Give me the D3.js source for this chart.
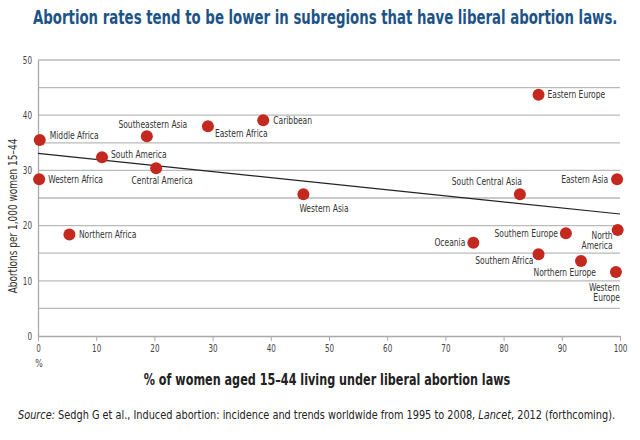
<!DOCTYPE html>
<html>
<head>
<meta charset="utf-8">
<script src="https://cdn.jsdelivr.net/npm/d3@7"></script>
<style>
  body { margin: 0; background: #fff; }
  svg text { font-family: "Liberation Sans Narrow", "DejaVu Sans Condensed", "Roboto", sans-serif; }
</style>
</head>
<body>
<div id="chart"></div>
<script>
// subregions, % of women living under liberal laws, abortion rate per 1,000
var regions = ['Middle Africa', 'Western Africa', 'Northern Africa', 'South America', 'Southeastern Asia',
    'Central America', 'Eastern Africa', 'Caribbean', 'Western Asia', 'Eastern Europe', 'South Central Asia',
    'Eastern Asia', 'Oceania', 'Southern Europe', 'North America', 'Southern Africa', 'Northern Europe', 'Western Europe'];
var pctLiberal = [0.3, 0.2, 5.4, 11.0, 18.7, 20.3, 29.2, 38.7, 45.6, 86.0, 82.8, 99.5, 74.8, 90.7, 99.6, 86.0, 93.3, 99.3];
var abortionRate = [35.5, 28.4, 18.4, 32.4, 36.2, 30.4, 38.0, 39.1, 25.7, 43.7, 25.7, 28.4, 16.9, 18.6, 19.2, 14.8, 13.6, 11.6];

// fitted trend line end points
var trendX = [0, 100];
var trendY = [33.1, 22.1];

var xTicks = [0, 10, 20, 30, 40, 50, 60, 70, 80, 90, 100];
var yTicks = [0, 10, 20, 30, 40, 50];
var yGrid = [5, 10, 15, 20, 25, 30, 35, 40, 45, 50];

// where each label sits relative to its dot: [dx, dy, anchor]
var labelPos = {
    'Middle Africa': [10, -5, 'start'],
    'Western Africa': [9, 0, 'start'],
    'Northern Africa': [9.5, 0, 'start'],
    'South America': [9, -3, 'start'],
    'Southeastern Asia': [6, -12, 'middle'],
    'Central America': [6, 12, 'middle'],
    'Eastern Africa': [7, 7, 'start'],
    'Caribbean': [10, 0, 'start'],
    'Western Asia': [-4, 14, 'start'],
    'Eastern Europe': [9, 0, 'start'],
    'South Central Asia': [2, -12.6, 'end'],
    'Eastern Asia': [-9, 0, 'end'],
    'Oceania': [-8, 0, 'end'],
    'Southern Europe': [-8, 0, 'end'],
    'North America': [-5, 5.5, 'end'],
    'Southern Africa': [-5, 6, 'end'],
    'Northern Europe': [15, 11, 'end'],
    'Western Europe': [4, 15, 'end']
};

var W = 640, H = 440;
var svg = d3.select('#chart').append('svg').attr('width', W).attr('height', H);

var x = d3.scaleLinear().domain([0, 100]).range([38, 620]);
var y = d3.scaleLinear().domain([0, 50]).range([336, 60]);

// squeeze text horizontally, there is no condensed font around
function squeeze(sel, f) {
    sel.each(function () {
        var w = this.getComputedTextLength();
        d3.select(this).attr('textLength', w * f).attr('lengthAdjust', 'spacingAndGlyphs');
    });
}
// scale a whole text (placed at 0,0) to a given width
function scaleTo(t, w, tx, ty, rot) {
    var n = t.node().getComputedTextLength();
    t.attr('transform', `translate(${tx},${ty})` + (rot ? ` rotate(${rot})` : '') + ` scale(${w / n},1)`);
}

// title
var title = svg.append('text').attr('font-size', 20).attr('font-weight', 'bold').attr('fill', '#1d5386')
    .text('Abortion rates tend to be lower in subregions that have liberal abortion laws.');
scaleTo(title, 585, 33, 24);

// gridlines
svg.append('g').selectAll('line').data(yGrid).enter().append('line')
    .attr('x1', x(0)).attr('x2', x(100))
    .attr('y1', d => y(d)).attr('y2', d => y(d))
    .attr('stroke', '#bababa').attr('stroke-width', 1.3);

// y axis
var yAxis = d3.axisLeft(y).tickValues(yTicks).tickSize(0).tickPadding(6);
var gy = svg.append('g').attr('transform', `translate(${x(0)},0)`).call(yAxis);
gy.select('.domain').attr('stroke', '#aaa').attr('stroke-width', 1.3);
gy.selectAll('text').attr('font-size', 10).attr('fill', '#444').style('font-family', null).call(squeeze, 0.8);

// x axis
var xAxis = d3.axisBottom(x).tickValues(xTicks).tickSize(5).tickPadding(4).tickSizeOuter(0);
var gx = svg.append('g').attr('transform', `translate(0,${y(0)})`).call(xAxis);
gx.select('.domain').attr('stroke', '#aaa').attr('stroke-width', 1.3);
gx.selectAll('line').attr('stroke', '#aaa');
gx.selectAll('text').attr('font-size', 10).attr('fill', '#444').style('font-family', null).call(squeeze, 0.8);

svg.append('text').attr('x', x(0) + 1).attr('y', 367).attr('text-anchor', 'middle')
    .attr('font-size', 11).attr('fill', '#444').text('%').call(squeeze, 0.8);

// trend line
svg.append('line')
    .attr('x1', x(trendX[0])).attr('y1', y(trendY[0]))
    .attr('x2', x(trendX[1])).attr('y2', y(trendY[1]))
    .attr('stroke', '#222').attr('stroke-width', 1.2);

// dots
var pts = regions.map((r, i) => ({ name: r, px: pctLiberal[i], rate: abortionRate[i] }));
svg.append('g').selectAll('circle').data(pts).enter().append('circle')
    .attr('cx', d => x(d.px)).attr('cy', d => y(d.rate)).attr('r', 6)
    .attr('fill', '#c4291f');

// labels
var lab = svg.append('g').selectAll('text').data(pts).enter().append('text')
    .attr('font-size', 10.5).attr('fill', '#333')
    .attr('text-anchor', d => labelPos[d.name][2])
    .attr('x', d => x(d.px) + labelPos[d.name][0])
    .attr('y', d => y(d.rate) + labelPos[d.name][1]);
lab.each(function (d) {
    var parts = d.name == 'North America' || d.name == 'Western Europe' ? d.name.split(' ') : [d.name];
    var t = d3.select(this);
    parts.forEach((p, k) => {
        t.append('tspan').attr('x', x(d.px) + labelPos[d.name][0])
            .attr('dy', k == 0 ? '0.35em' : '0.95em').text(p);
    });
});
lab.selectAll('tspan').call(squeeze, 0.8);

// axis titles
var ytitle = svg.append('text').attr('text-anchor', 'middle').attr('font-size', 12).attr('fill', '#333')
    .text('Abortions per 1,000 women 15\u201344');
scaleTo(ytitle, 155, 17, 216, -90);

var xtitle = svg.append('text').attr('text-anchor', 'middle')
    .attr('font-size', 16).attr('font-weight', 'bold').attr('fill', '#222')
    .text('% of women aged 15\u201344 living under liberal abortion laws');
scaleTo(xtitle, 367, 327, 385);

// source note
var src = svg.append('text').attr('font-size', 12).attr('fill', '#222');
src.append('tspan').attr('font-style', 'italic').text('Source:');
src.append('tspan').text(' Sedgh G et al., Induced abortion: incidence and trends worldwide from 1995 to 2008, ');
src.append('tspan').attr('font-style', 'italic').text('Lancet');
src.append('tspan').text(', 2012 (forthcoming).');
scaleTo(src, 598, 18, 419);
</script>
</body>
</html>
